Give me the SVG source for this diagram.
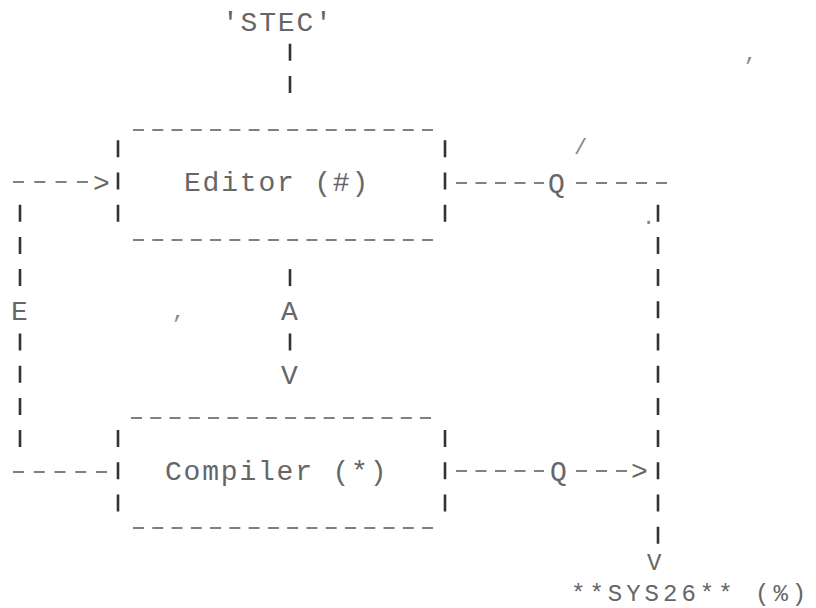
<svg xmlns="http://www.w3.org/2000/svg" width="816" height="608" viewBox="0 0 816 608">
<style>
  .t{font-family:"Liberation Mono","DejaVu Sans Mono",monospace;font-size:28px;letter-spacing:1.8px;fill:#666}
  .sm{font-family:"Liberation Mono","DejaVu Sans Mono",monospace;font-size:24px;letter-spacing:4px;fill:#666}
  .s{font-family:"Liberation Mono","DejaVu Sans Mono",monospace;font-size:22px;fill:#888}
  .p{stroke:#333;stroke-width:2.6;fill:none;stroke-dasharray:17 15.2}
  .bd{stroke:#808080;stroke-width:2.2;fill:none;stroke-dasharray:11 8.27}
  .cd{stroke:#808080;stroke-width:2.2;fill:none;stroke-dasharray:11 8.5}
</style>
<rect width="816" height="608" fill="#ffffff"/>

<g id="stec">
  <text class="t" x="222" y="31">'STEC'</text>
</g>

<g id="editor">
  <line class="bd" x1="133" y1="130" x2="433" y2="130"/>
  <line class="bd" x1="133" y1="240" x2="433" y2="240"/>
  <line class="p" x1="118" y1="140.3" x2="118" y2="221.7"/>
  <line class="p" x1="445" y1="140.3" x2="445" y2="221.7"/>
  <text class="t" x="184" y="191">Editor (#)</text>
</g>

<g id="compiler">
  <line class="bd" x1="131" y1="418" x2="433" y2="418"/>
  <line class="bd" x1="133" y1="528" x2="433" y2="528"/>
  <line class="p" x1="118" y1="430.1" x2="118" y2="511.5"/>
  <line class="p" x1="445" y1="430.1" x2="445" y2="511.5"/>
  <text class="t" x="165" y="480">Compiler (*)</text>
</g>

<g id="sys26">
  <text class="sm" x="571" y="601">**SYS26** (%)</text>
</g>

<g id="connectors">
  <!-- STEC down to editor -->
  <line class="p" x1="290" y1="43.7" x2="290" y2="92.9"/>
  <!-- left loop: compiler back to editor -->
  <line class="cd" x1="13" y1="182" x2="88" y2="182" style="stroke-dasharray:11 10.3"/>
  <text class="t" x="93" y="192">&gt;</text>
  <line class="p" x1="20" y1="204.7" x2="20" y2="286.1"/>
  <text class="t" x="11" y="320">E</text>
  <line class="p" x1="20" y1="333.5" x2="20" y2="447.1"/>
  <line class="cd" x1="13" y1="472" x2="107" y2="472" style="stroke-dasharray:11 9.75"/>
  <!-- editor to compiler -->
  <line class="p" x1="290" y1="269.1" x2="290" y2="286.1"/>
  <text class="t" x="281" y="320">A</text>
  <line class="p" x1="290" y1="333.5" x2="290" y2="350.5"/>
  <text class="t" x="281" y="384">V</text>
  <!-- editor to SYS26 -->
  <line class="cd" x1="456" y1="183" x2="544" y2="183"/>
  <text class="t" x="548" y="192">Q</text>
  <line class="cd" x1="576" y1="183" x2="667" y2="183" style="stroke-dasharray:11 9"/>
  <line class="p" x1="658" y1="204.7" x2="658" y2="543.7"/>
  <text class="sm" x="647" y="570">V</text>
  <!-- compiler to SYS26 -->
  <line class="cd" x1="456" y1="471" x2="544" y2="471"/>
  <text class="t" x="550" y="480">Q</text>
  <line class="cd" x1="576" y1="471" x2="627" y2="471" style="stroke-dasharray:11 9"/>
  <text class="t" x="631" y="480">&gt;</text>
</g>

<g id="marks">
  <text class="s" x="172" y="318">,</text>
  <text class="s" x="642" y="224">.</text>
  <text class="s" x="574" y="154">/</text>
  <text class="s" x="744" y="60">,</text>
</g>
</svg>
